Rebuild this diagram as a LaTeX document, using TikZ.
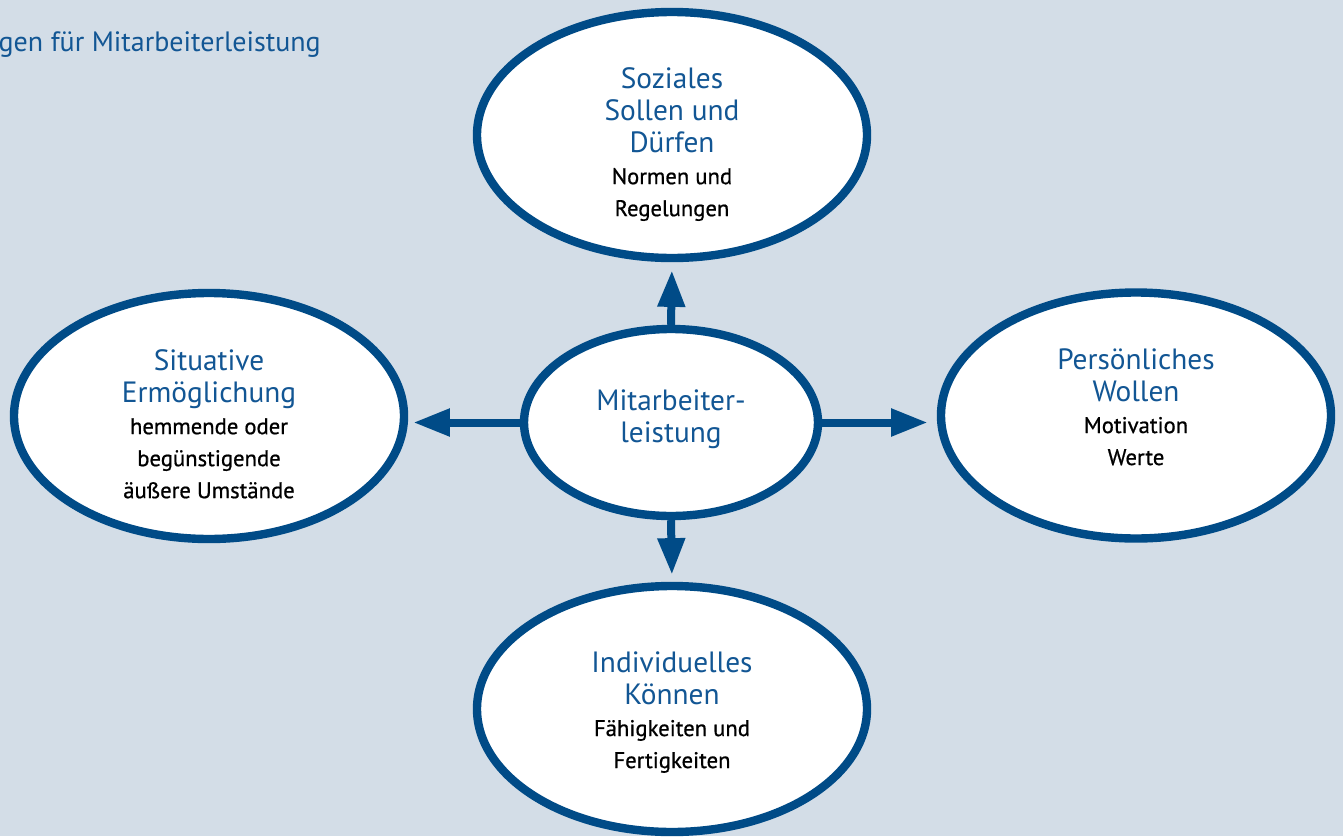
\documentclass[tikz,border=0pt]{standalone}
\usepackage{fontspec}
\setmainfont{PT Sans}
\newfontfamily\medfont{PT Sans}[FakeBold=0.7]
\usetikzlibrary{shapes.geometric,arrows.meta}
\definecolor{bgc}{RGB}{211,221,231}
\definecolor{edgec}{RGB}{0,75,135}
\definecolor{tblue}{RGB}{18,86,148}
\newcommand{\blk}{\color{black}\medfont\fontsize{17pt}{24pt}\selectfont}
\begin{document}
\begin{tikzpicture}[x=0.75pt,y=-0.75pt,
  oval/.style={ellipse, draw=edgec, line width=6.3pt, fill=white, inner sep=0pt,
               minimum width=292.5pt, minimum height=184.5pt},
  midoval/.style={oval, minimum width=220.5pt, minimum height=140.25pt},
  txt/.style={anchor=north, inner sep=0pt, align=center, text=tblue,
              font=\fontsize{22pt}{24pt}\selectfont},
  conn/.style={draw=edgec, line width=6pt, -{Triangle[length=27.5pt,width=19.5pt]}},
  ]
\useasboundingbox (0,0) rectangle (1343,836);
\fill[bgc] (0,0) rectangle (1343,836);
\clip (0,0) rectangle (1343,836);

\node[anchor=base east, inner sep=0pt, text=tblue, font=\fontsize{21pt}{24pt}\selectfont]
  (title) at (321,51) {gen für Mitarbeiterleistung};

\node[midoval] (c) at (671,422.5) {};
\node[oval] (top) at (672,135) {};
\node[oval] (left) at (209,416) {};
\node[oval] (right) at (1136,415.5) {};
\node[oval] (bot) at (672,709) {};

\node[txt] (ct) at (671,389) {Mitarbeiter-\\leistung};
\node[txt] (tt) at (672,67) {Soziales\\Sollen und\\Dürfen\\{\blk Normen und}\\{\blk Regelungen}};
\node[txt] (lt) at (209,349) {Situative\\Ermöglichung\\{\blk hemmende oder}\\{\blk begünstigende}\\{\blk äußere Umstände}};
\node[txt] (rt) at (1136,348) {Persönliches\\Wollen\\{\blk Motivation}\\{\blk Werte}};
\node[txt] (bt) at (672,651) {Individuelles\\Können\\{\blk Fähigkeiten und}\\{\blk Fertigkeiten}};

\draw[conn, shorten >=6pt] (c.north) -- (top.south);
\draw[conn, shorten >=5.25pt] (c.south) -- (bot.north);
\draw[conn, shorten >=3.75pt] (c.west) -- (left.east |- c.west);
\draw[conn, shorten >=6.75pt] (c.east) -- (right.west |- c.east);
\end{tikzpicture}
\end{document}
